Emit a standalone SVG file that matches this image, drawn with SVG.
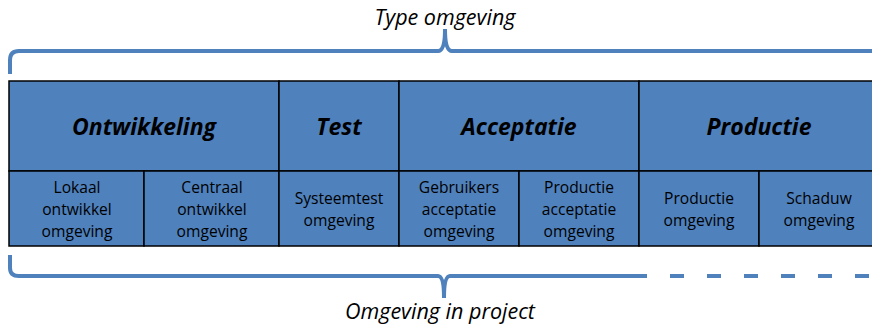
<svg xmlns="http://www.w3.org/2000/svg" width="872" height="327" viewBox="0 0 872 327">
<style>
.cell{fill:#4F81BD;stroke:#000;stroke-width:1.5}
.hd{font-family:"Open Sans","Liberation Sans",sans-serif;font-weight:bold;font-style:italic;font-size:23px;fill:#000;text-anchor:middle}
.sm{font-family:"Open Sans","Liberation Sans",sans-serif;font-size:15.6px;fill:#000;text-anchor:middle}
.lbl{font-family:"Open Sans","Liberation Sans",sans-serif;font-style:italic;font-size:21.5px;fill:#000;text-anchor:middle}
.br{fill:none;stroke:#4F81BD;stroke-width:4}
</style>
<g id="connectors">
<path class="br" d="M10,74 V60 Q10,51 19,51 H438 Q445,51 445,29 Q445,51 452,51 H872"/>
<path class="br" d="M10,255 V268 Q10,276 19,276 H438 Q444,276 444,298 Q444,276 450,276 H647"/>
<path class="br" d="M670,276 H872" stroke-dasharray="14,23"/>
</g>
<g id="label-top"><text class="lbl" x="445" y="25">Type omgeving</text></g>
<g id="label-bottom"><text class="lbl" x="440" y="319">Omgeving in project</text></g>
<g id="ontwikkeling"><rect class="cell" x="9" y="81" width="270" height="90"/><text class="hd" x="144" y="135">Ontwikkeling</text></g>
<g id="test"><rect class="cell" x="279" y="81" width="120" height="90"/><text class="hd" x="339" y="135">Test</text></g>
<g id="acceptatie"><rect class="cell" x="399" y="81" width="240" height="90"/><text class="hd" x="519" y="135">Acceptatie</text></g>
<g id="productie"><rect class="cell" x="639" y="81" width="240" height="90"/><text class="hd" x="759" y="135">Productie</text></g>
<g id="lokaal"><rect class="cell" x="9" y="171" width="135" height="75"/><text class="sm" x="77" y="193">Lokaal</text><text class="sm" x="77" y="215">ontwikkel</text><text class="sm" x="77" y="237">omgeving</text></g>
<g id="centraal"><rect class="cell" x="144" y="171" width="135" height="75"/><text class="sm" x="212" y="193">Centraal</text><text class="sm" x="212" y="215">ontwikkel</text><text class="sm" x="212" y="237">omgeving</text></g>
<g id="systeemtest"><rect class="cell" x="279" y="171" width="120" height="75"/><text class="sm" x="339" y="204">Systeemtest</text><text class="sm" x="339" y="226">omgeving</text></g>
<g id="gebruikers"><rect class="cell" x="399" y="171" width="120" height="75"/><text class="sm" x="459" y="193">Gebruikers</text><text class="sm" x="459" y="215">acceptatie</text><text class="sm" x="459" y="237">omgeving</text></g>
<g id="productie-acc"><rect class="cell" x="519" y="171" width="120" height="75"/><text class="sm" x="579" y="193">Productie</text><text class="sm" x="579" y="215">acceptatie</text><text class="sm" x="579" y="237">omgeving</text></g>
<g id="productie-omg"><rect class="cell" x="639" y="171" width="120" height="75"/><text class="sm" x="699" y="204">Productie</text><text class="sm" x="699" y="226">omgeving</text></g>
<g id="schaduw"><rect class="cell" x="759" y="171" width="120" height="75"/><text class="sm" x="819" y="204">Schaduw</text><text class="sm" x="819" y="226">omgeving</text></g>
</svg>
